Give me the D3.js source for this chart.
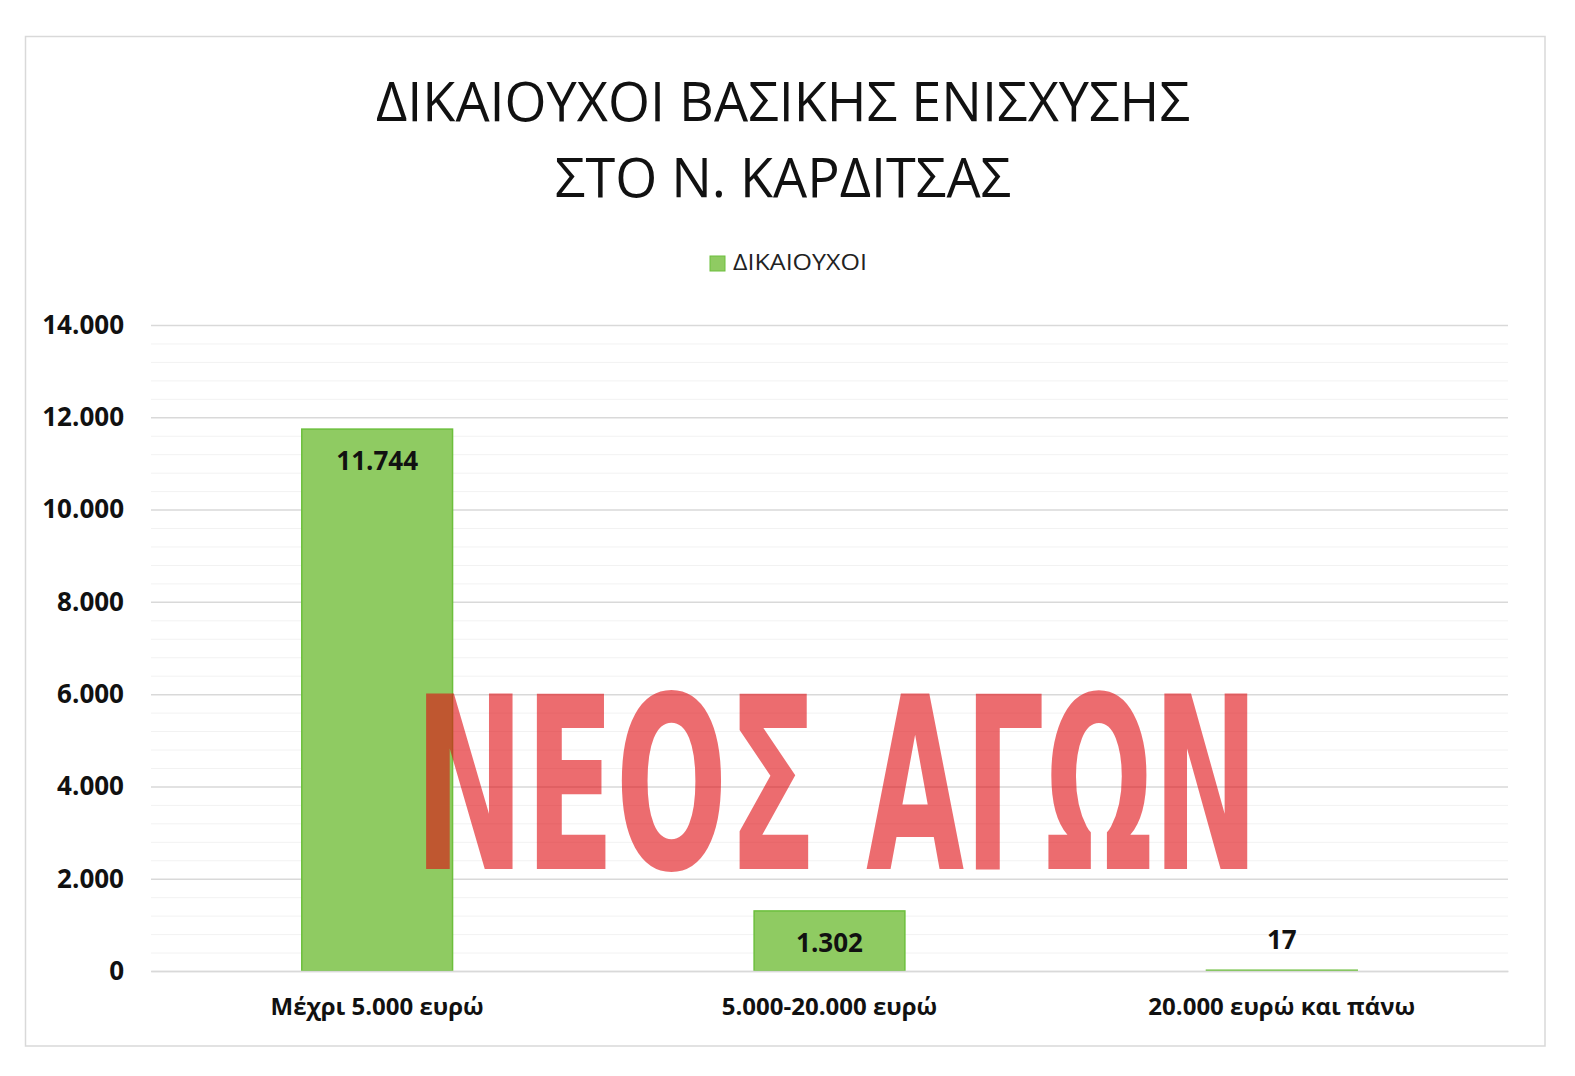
<!DOCTYPE html>
<html><head><meta charset="utf-8">
<script src="https://cdn.jsdelivr.net/npm/d3@7"></script>
<style>html,body{margin:0;padding:0;background:#fff;}svg{display:block;}</style>
</head><body>
<script>
const categories = ["Μέχρι 5.000 ευρώ", "5.000-20.000 ευρώ", "20.000 ευρώ και πάνω"];
const values = [11744, 1302, 17];
const seriesName = "ΔΙΚΑΙΟΥΧΟΙ";
const yTicks = [0, 2000, 4000, 6000, 8000, 10000, 12000, 14000];
const titleLines = ["ΔΙΚΑΙΟΥΧΟΙ ΒΑΣΙΚΗΣ ΕΝΙΣΧΥΣΗΣ", "ΣΤΟ Ν. ΚΑΡΔΙΤΣΑΣ"];
const watermarkWords = ["ΝΕΟΣ", "ΑΓΩΝ"];

const W = 1575, H = 1076;
const font = "'Open Sans','Noto Sans','DejaVu Sans',sans-serif";
const loc = d3.formatLocale({decimal: ",", thousands: ".", grouping: [3], currency: ["", "€"]});
const fmt = loc.format(",d");

const svg = d3.select("body").append("svg").attr("width", W).attr("height", H);
svg.append("rect").attr("x", 25.5).attr("y", 36.5).attr("width", 1519.5).attr("height", 1009.5)
  .attr("fill", "#fff").attr("stroke", "#d9d9d9").attr("stroke-width", 1.5);

const x = d3.scaleBand().domain(categories).range([151, 1508]).paddingInner(2/3).paddingOuter(1/3);
const y = d3.scaleLinear().domain([0, 14000]).range([971, 325]);

// minor grid
const minor = d3.range(0, 14001, 400).filter(v => v % 2000 !== 0);
svg.append("g").selectAll("line").data(minor).join("line")
  .attr("x1", 151).attr("x2", 1508).attr("y1", d => y(d) + 0.5).attr("y2", d => y(d) + 0.5)
  .attr("stroke", "#f2f2f2").attr("stroke-width", 1);

// major grid via axis
const gy = svg.append("g").attr("transform", "translate(151,0)")
  .call(d3.axisLeft(y).tickValues(yTicks).tickSize(-1357).tickFormat(fmt).tickPadding(27));
gy.select(".domain").remove();
gy.selectAll(".tick line").attr("stroke", "#d9d9d9").attr("stroke-width", 1.5);
gy.selectAll(".tick text").attr("font-family", font).attr("font-weight", 700)
  .attr("font-size", 26).attr("fill", "#111");

// bars
svg.append("g").selectAll("rect").data(values).join("rect")
  .attr("x", (d, i) => x(categories[i]))
  .attr("y", d => y(d))
  .attr("width", x.bandwidth())
  .attr("height", d => y(0) - y(d))
  .attr("fill", "#8fcb62").attr("stroke", "#6cbf3c").attr("stroke-width", 1.5);

// value labels
svg.append("g").selectAll("text").data(values).join("text")
  .attr("x", (d, i) => x(categories[i]) + x.bandwidth() / 2)
  .attr("y", d => (y(0) - y(d) > 50 ? y(d) + 32 : y(d) - 30))
  .attr("dy", "0.35em").attr("text-anchor", "middle")
  .attr("font-family", font).attr("font-weight", 700).attr("font-size", 26).attr("fill", "#111")
  .text(d => fmt(d));

// x axis
const gx = svg.append("g").attr("transform", "translate(0,971)")
  .call(d3.axisBottom(x).tickSize(0).tickPadding(27));
gx.select(".domain").attr("stroke", "#d9d9d9").attr("stroke-width", 1.5);
gx.selectAll(".tick text").attr("font-family", font).attr("font-weight", 700)
  .attr("font-size", 24).attr("fill", "#111");

// title
svg.append("g").selectAll("text").data(titleLines).join("text")
  .attr("x", 783).attr("y", (d, i) => 121 + i * 76).attr("text-anchor", "middle")
  .attr("font-family", font).attr("font-size", 54).attr("fill", "#111")
  .text(d => d);

// legend
svg.append("rect").attr("x", 710).attr("y", 256).attr("width", 15).attr("height", 15)
  .attr("fill", "#8fcb62").attr("stroke", "#6cbf3c");
svg.append("text").attr("x", 733).attr("y", 270).attr("font-family", font)
  .attr("font-size", 22).attr("fill", "#222")
  .attr("textLength", 134).attr("lengthAdjust", "spacingAndGlyphs").text(seriesName);

// watermark (scaled horizontally to the reference width)
const wm = [{t: watermarkWords[0], x: 414, w: 404}, {t: watermarkWords[1], x: 866, w: 393}];
const wmG = svg.append("g");
wm.forEach(d => {
  const t = wmG.append("text")
    .attr("x", 0).attr("y", 0)
    .attr("font-family", "'DejaVu Sans Condensed','DejaVu Sans',sans-serif")
    .attr("font-weight", 700).attr("font-size", 176)
    .attr("fill", "#df0a0f").attr("fill-opacity", 0.6)
    .text(d.t);
  const w0 = t.node().getComputedTextLength();
  t.attr("transform", `translate(${d.x},869) scale(${d.w / w0},1.364)`);
});
</script>
</body></html>
